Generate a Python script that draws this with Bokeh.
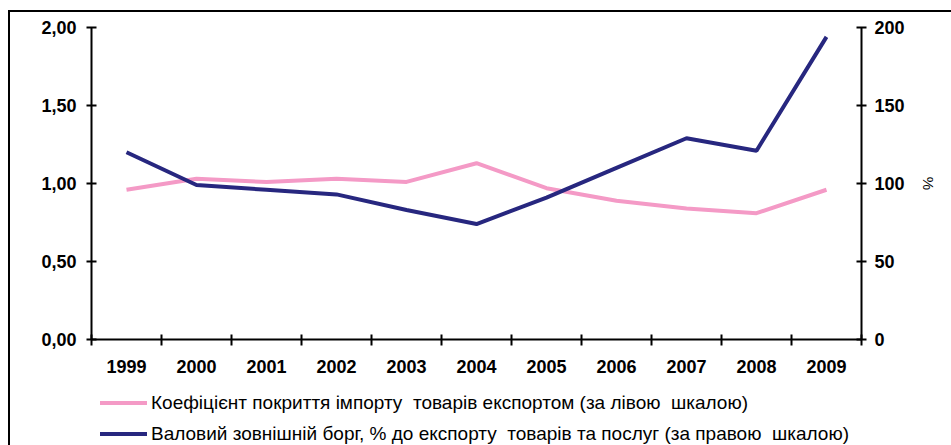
from bokeh.plotting import figure
from bokeh.layouts import column
from bokeh.models import (Range1d, LinearAxis, FixedTicker, ColumnDataSource, Div)
from bokeh.embed import file_html
from bokeh.resources import INLINE

years = ["1999", "2000", "2001", "2002", "2003", "2004", "2005", "2006", "2007", "2008", "2009"]
coverage = [0.96, 1.03, 1.01, 1.03, 1.01, 1.13, 0.97, 0.89, 0.84, 0.81, 0.96]
debt = [120, 99, 96, 93, 83, 74, 91, 110, 129, 121, 194]
left_ticks = [0, 0.5, 1.0, 1.5, 2.0]
left_labels = ["0,00", "0,50", "1,00", "1,50", "2,00"]
right_ticks = [0, 50, 100, 150, 200]
name_cov = "Коефіцієнт покриття імпорту  товарів експортом (за лівою  шкалою)"
name_debt = "Валовий зовнішній борг, % до експорту  товарів та послуг (за правою  шкалою)"

n = len(years)
xc = [i + 0.5 for i in range(n)]
src = ColumnDataSource(dict(x=xc, cov=coverage, debt=debt))

FONT = "Liberation Sans"
PINK = "#F49AC6"
NAVY = "#27277F"
TICK_FS = "18px"

p = figure(width=951, height=385, output_backend="svg", toolbar_location=None,
           x_range=Range1d(0, n), y_range=Range1d(left_ticks[0], left_ticks[-1]),
           min_border_left=91, min_border_right=90, min_border_top=27, min_border_bottom=46)
p.extra_y_ranges = {"right": Range1d(right_ticks[0], right_ticks[-1])}
p.xgrid.visible = False
p.ygrid.visible = False
p.outline_line_color = None
p.background_fill_color = "white"
p.border_fill_color = None
p.border_fill_alpha = 0

# bottom axis
xa = p.xaxis[0]
xa.ticker = FixedTicker(ticks=xc, minor_ticks=list(range(n + 1)))
xa.major_label_overrides = {x: y for x, y in zip(xc, years)}
xa.major_tick_line_color = None
xa.major_tick_in = 0
xa.major_tick_out = 6
xa.minor_tick_in = 5
xa.minor_tick_out = 6
xa.minor_tick_line_width = 2
xa.minor_tick_line_color = "black"
xa.axis_line_width = 2
xa.major_label_standoff = 14
xa.major_label_text_font = FONT
xa.major_label_text_font_style = "bold"
xa.major_label_text_font_size = TICK_FS
xa.major_label_text_color = "black"

# left axis
ya = p.yaxis[0]
ya.ticker = FixedTicker(ticks=left_ticks)
ya.major_label_overrides = {t: l for t, l in zip(left_ticks, left_labels)}
ya.minor_tick_line_color = None
ya.major_tick_in = 5
ya.major_tick_out = 5
ya.major_tick_line_width = 2
ya.axis_line_width = 2
ya.major_label_standoff = 10
ya.major_label_text_font = FONT
ya.major_label_text_font_style = "bold"
ya.major_label_text_font_size = TICK_FS
ya.major_label_text_color = "black"

# right axis
ra = LinearAxis(y_range_name="right", ticker=FixedTicker(ticks=right_ticks), axis_label="%")
ra.minor_tick_line_color = None
ra.major_tick_in = 5
ra.major_tick_out = 5
ra.major_tick_line_width = 2
ra.axis_line_width = 2
ra.major_label_standoff = 8
ra.major_label_text_font = FONT
ra.major_label_text_font_style = "bold"
ra.major_label_text_font_size = TICK_FS
ra.major_label_text_color = "black"
ra.axis_label_text_font = FONT
ra.axis_label_text_font_style = "normal"
ra.axis_label_text_font_size = "15px"
ra.axis_label_text_color = "black"
ra.axis_label_standoff = 12
p.add_layout(ra, "right")

p.line("x", "cov", source=src, line_color=PINK, line_width=4)
p.line("x", "debt", source=src, y_range_name="right", line_color=NAVY, line_width=4)

# legend strip (HTML)
def row(color, label, top):
    return (f'<div style="position:absolute;left:100px;top:{top}px;height:30px;'
            f'display:flex;align-items:center;white-space:pre;">'
            f'<span style="display:inline-block;width:47px;height:4px;background:{color};'
            f'margin-right:4px;"></span><span>{label}</span></div>')

html = ('<div style="position:relative;width:951px;height:60px;'
        f'font-family:\'{FONT}\',Arial,sans-serif;font-size:19px;color:black;">'
        + row(PINK, name_cov, 3) + row(NAVY, name_debt, 34) + '</div>')
leg = Div(text=html, width=951, height=60, margin=(0, 0, 0, 0))

layout = column(p, leg, spacing=0, width=951, height=445)
layout.styles = {
    "background-color": "white",
    "background-image": "linear-gradient(#000,#000), linear-gradient(#000,#000)",
    "background-position": "8px 10px, 8px 10px",
    "background-size": "2px 100%, 100% 2px",
    "background-repeat": "no-repeat",
}

open("out.html", "w").write(file_html(layout, INLINE))
